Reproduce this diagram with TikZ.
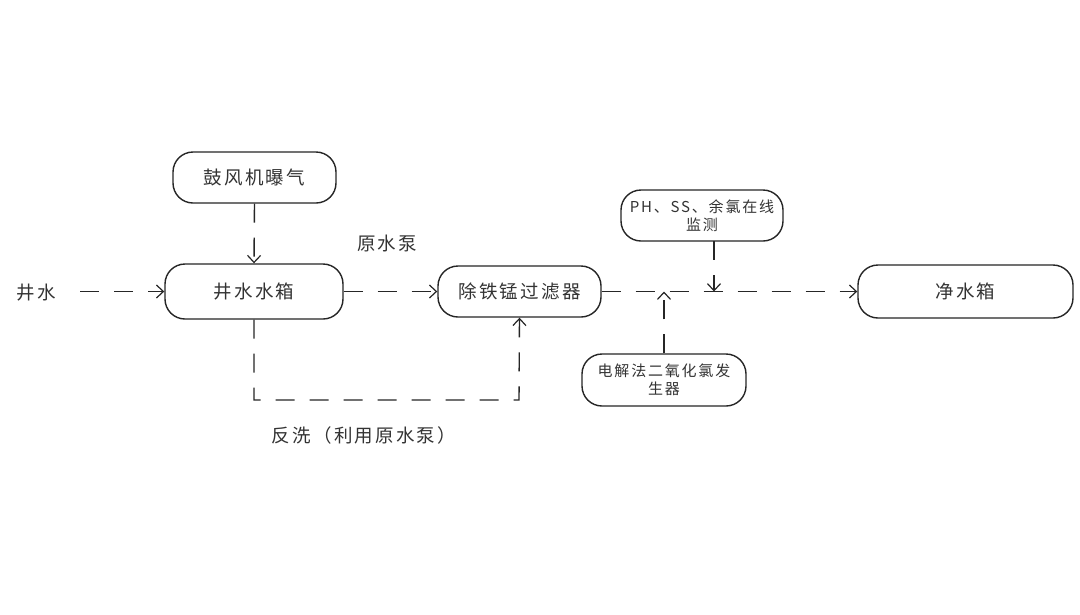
\documentclass[tikz,border=0pt]{standalone}
\usepackage{fontspec}
\setmainfont{Noto Sans CJK SC}[LetterSpace=12]
\usetikzlibrary{arrows.meta}
\begin{document}
\begin{tikzpicture}[x=1pt,y=-1pt,
  box/.style={draw=black!85, line width=1.4pt, rounded corners=20pt, inner sep=0pt, align=center, text=black!80},
  lbl/.style={text=black!80},
  big/.style={font=\fontsize{18.5}{21}\selectfont},
  small/.style={font=\fontsize{15}{18}\selectfont},
  flow/.style={draw=black!85, line width=1.4pt, dash pattern=on 19pt off 15pt, -{Straight Barb[length=7pt,width=13pt,line width=1.2pt]}}]
\useasboundingbox (0,0) rectangle (1080,614);
\fill[white] (0,0) rectangle (1080,614);

\node[box,big,minimum width=163pt,minimum height=51pt] (blower) at (254.5,177.5) {鼓风机曝气};
\node[box,big,minimum width=178pt,minimum height=55pt] (tank) at (254,291.5) {井水水箱};
\node[box,big,minimum width=163pt,minimum height=51pt] (filter) at (519.5,291.5) {除铁锰过滤器};
\node[box,small,minimum width=162pt,minimum height=51pt] (ph) at (702,215.5) {PH、SS、余氯在线\\监测};
\node[box,small,minimum width=164pt,minimum height=52pt] (gen) at (664,380) {电解法二氧化氯发\\生器};
\node[box,big,minimum width=215pt,minimum height=53pt] (clean) at (965.5,291.5) {净水箱};

\node[lbl,big] (well) at (36,293) {井水};
\node[lbl,big] (pump) at (387,243) {原水泵};
\node[lbl,big] (bw) at (364,435) {反洗（利用原水泵）};

\coordinate (ws) at (80,291.5);
\coordinate (j1) at (664,291.5);
\coordinate (j2) at (714,291.5);
\coordinate (phb) at (714,241);
\coordinate (c1) at (254,400);
\coordinate (c2) at (519,400);

\draw[flow] (ws) -- (tank.west);
\draw[flow] (blower.south) -- (tank.north);
\draw[flow] (tank.east) -- (filter.west);
\draw[flow] (filter.east) -- (clean.west);
\draw[flow] (gen.north) -- (j1);
\draw[flow] (phb) -- (j2);
\draw[flow] (tank.south) -- (c1) -- (c2) -- (filter.south);
\end{tikzpicture}
\end{document}
